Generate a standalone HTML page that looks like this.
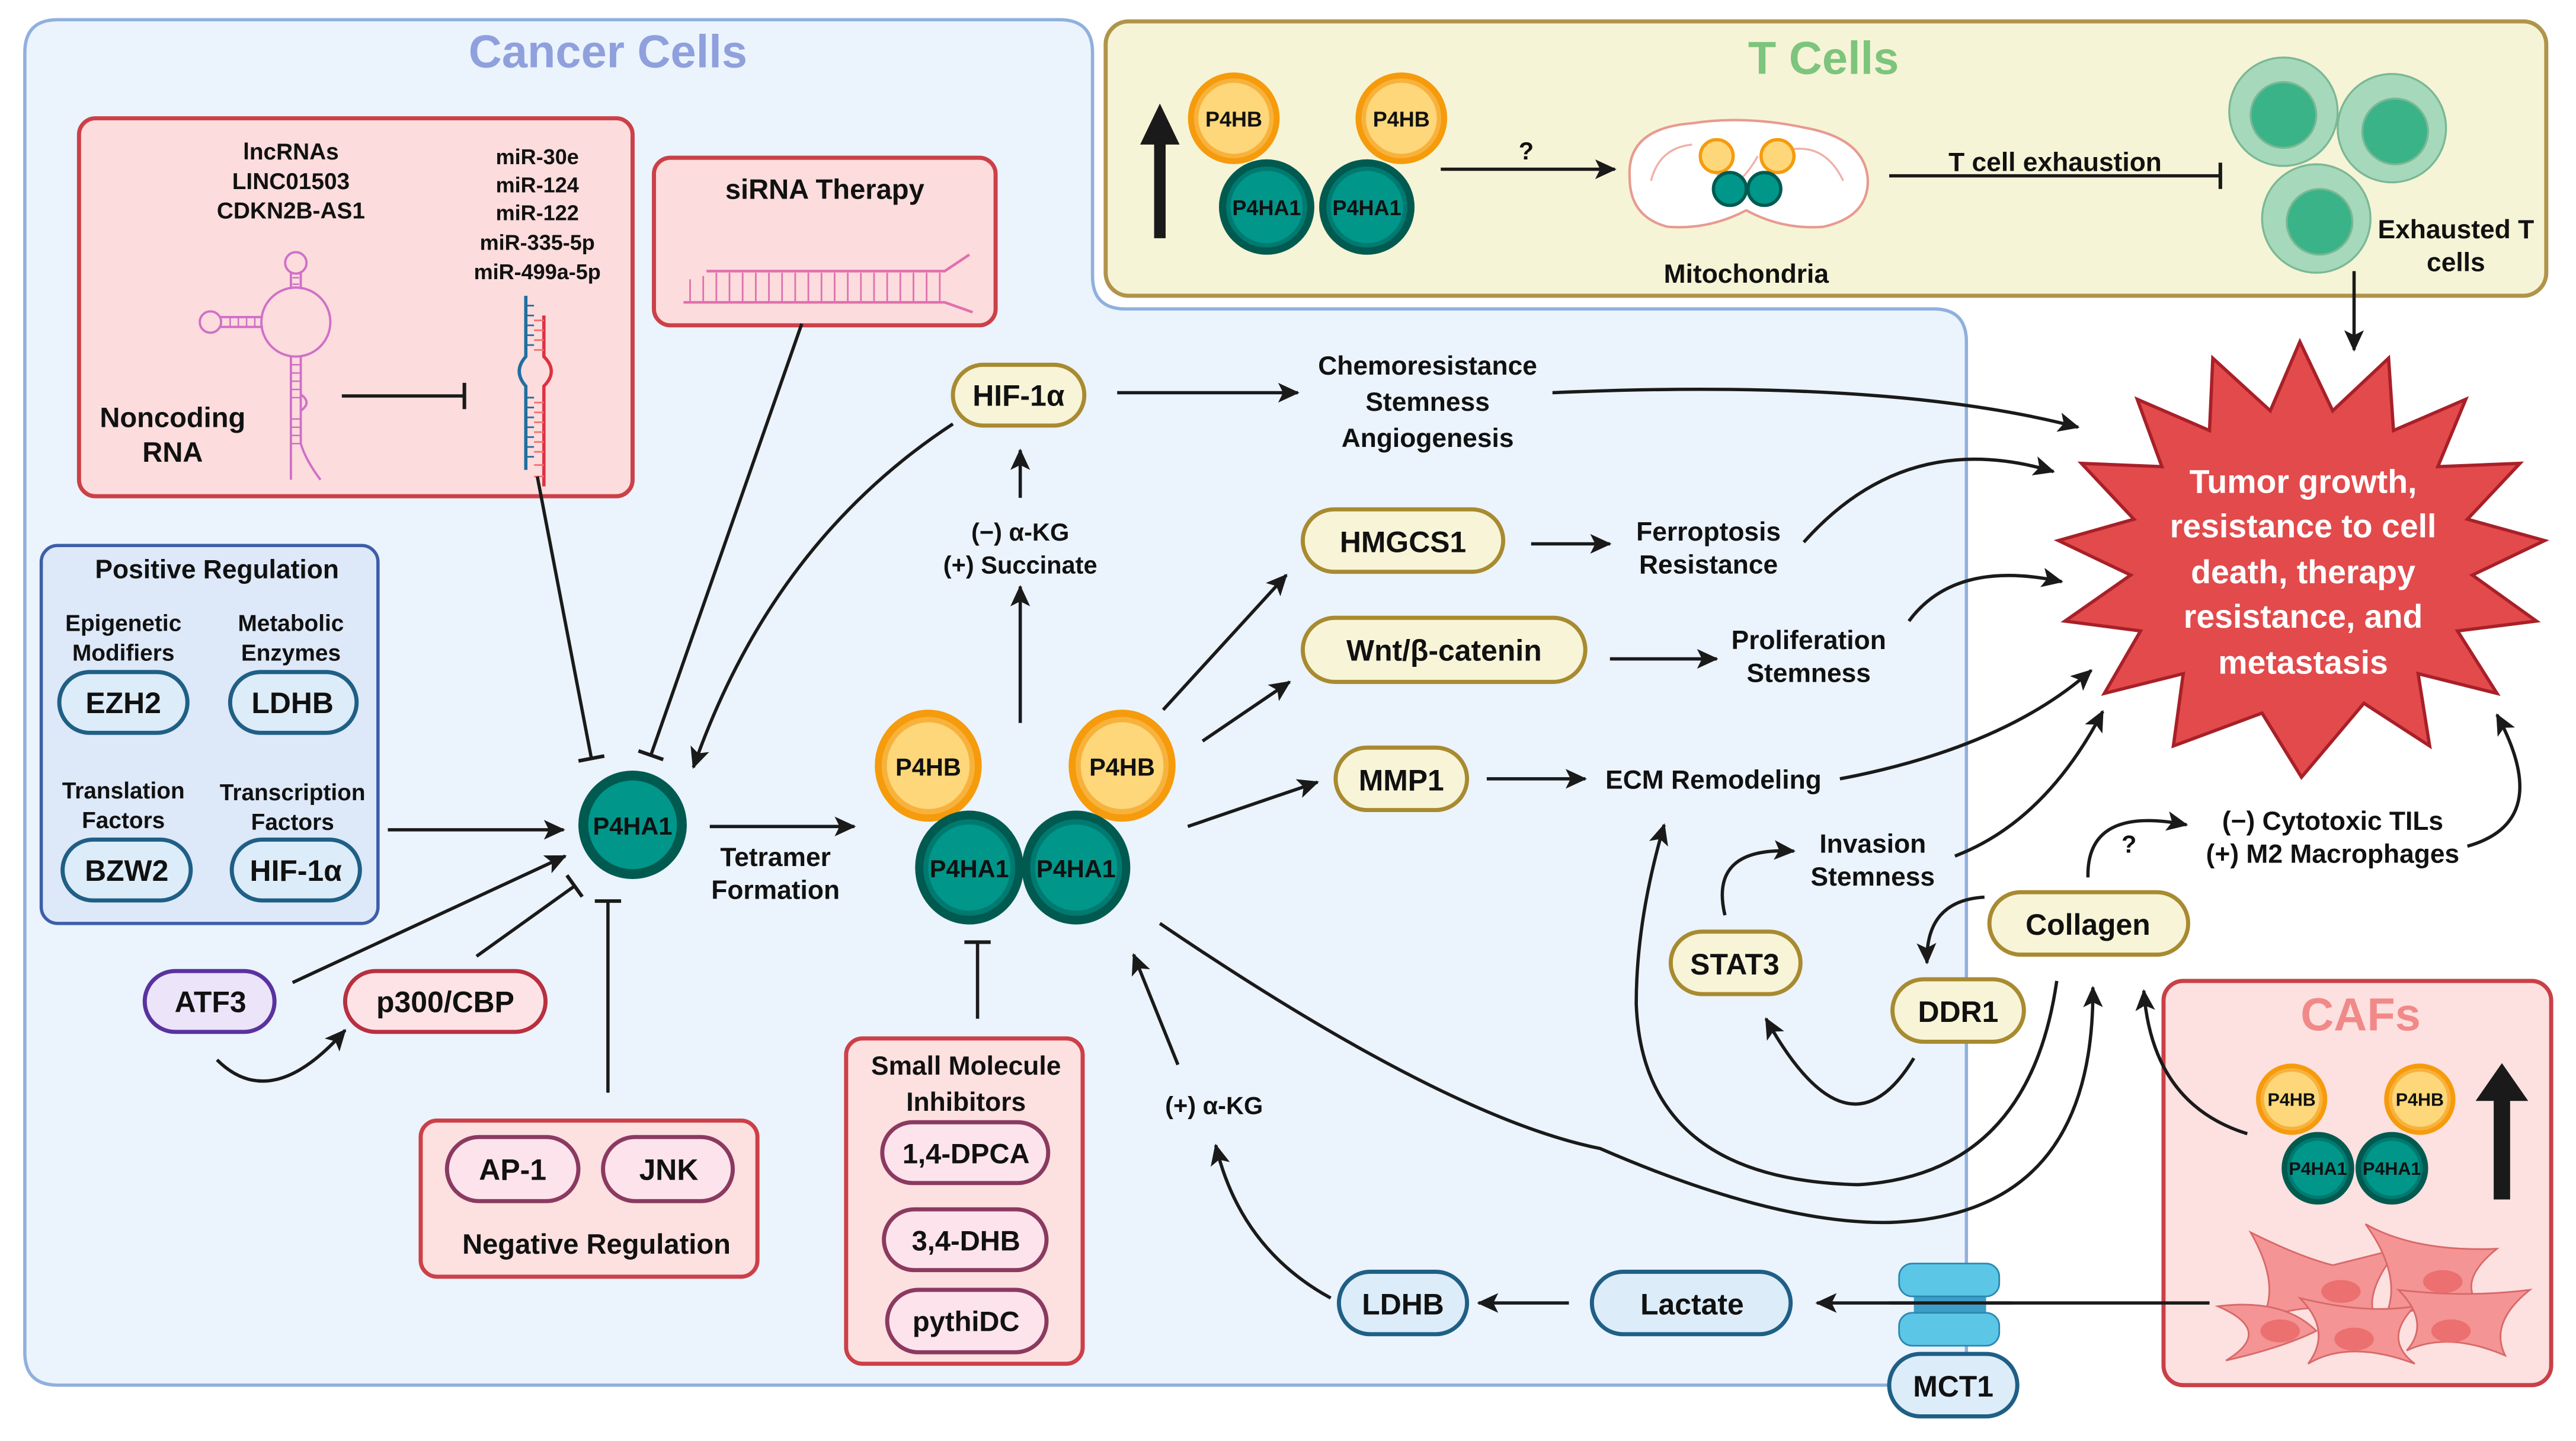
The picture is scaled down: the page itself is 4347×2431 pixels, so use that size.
<!DOCTYPE html>
<html><head><meta charset="utf-8"><style>
html,body{margin:0;padding:0;background:#fff}
svg{display:block}
text{font-family:"Liberation Sans",sans-serif;font-weight:bold;fill:#111;text-anchor:middle}
</style></head><body>
<svg width="4347" height="2431" viewBox="0 0 1568 877" xmlns="http://www.w3.org/2000/svg">
<defs>
<marker id="a" markerUnits="userSpaceOnUse" markerWidth="14" markerHeight="14" refX="12" refY="7" orient="auto"><path d="M0,1 L13,7 L0,13 L3,7 Z" fill="#1a1a1a"/></marker>
<marker id="t" markerUnits="userSpaceOnUse" markerWidth="4" markerHeight="18" refX="2" refY="9" orient="auto"><rect x="0.5" y="1" width="2.2" height="16" fill="#1a1a1a"/></marker>
<g id="hb"><circle r="31" fill="#f59b0c"/><circle r="27" fill="#f8b23c"/><circle r="24" fill="#fdd77a"/></g>
<g id="ha"><circle r="33" fill="#005a50"/><circle r="28" fill="#007a70"/><circle r="25" fill="#00968a"/></g>
</defs>

<!-- Cancer cells region -->
<path d="M35,12 L645,12 Q665,12 665,32 L665,168 Q665,188 685,188 L1177,188 Q1197,188 1197,208 L1197,823 Q1197,843 1177,843 L35,843 Q15,843 15,823 L15,32 Q15,12 35,12 Z" fill="#ebf3fc" stroke="#90b0de" stroke-width="2"/>
<text x="370" y="41" font-size="28" style="fill:#8fa0dd">Cancer Cells</text>

<!-- T cells -->
<rect x="673" y="13" width="877" height="167" rx="14" fill="#f6f4d6" stroke="#b0944a" stroke-width="2.5"/>
<text x="1110" y="45" font-size="28" style="fill:#7dc47d">T Cells</text>
<path d="M706,145 L706,85" stroke="#1a1a1a" stroke-width="7"/><path d="M694,88 L706,63 L718,88 Z" fill="#1a1a1a"/>
<use href="#ha" x="771" y="126" transform="translate(771,126) scale(0.88) translate(-771,-126)"/>
<use href="#ha" x="832" y="126" transform="translate(832,126) scale(0.88) translate(-832,-126)"/>
<use href="#hb" x="751" y="72" transform="translate(751,72) scale(0.9) translate(-751,-72)"/>
<use href="#hb" x="853" y="72" transform="translate(853,72) scale(0.9) translate(-853,-72)"/>
<text x="751" y="77" font-size="13">P4HB</text><text x="853" y="77" font-size="13">P4HB</text>
<text x="771" y="131" font-size="13">P4HA1</text><text x="832" y="131" font-size="13">P4HA1</text>
<text x="929" y="97" font-size="15">?</text>
<line x1="877" y1="103" x2="983" y2="103" stroke="#1a1a1a" stroke-width="2" marker-end="url(#a)"/>
<path d="M992,108 Q990,78 1030,75 Q1063,70 1100,78 Q1136,85 1137,110 Q1137,132 1110,138 Q1085,140 1063,128 Q1040,140 1015,138 Q992,132 992,108 Z" fill="#fff" stroke="#e89a90" stroke-width="1.5"/>
<path d="M1005,110 Q1010,90 1030,88 M1040,92 Q1050,130 1070,95 M1085,92 Q1110,85 1122,110" fill="none" stroke="#f0b0a8" stroke-width="1.2"/>
<circle cx="1045" cy="95" r="10" fill="#fdd77a" stroke="#f59b0c" stroke-width="2"/><circle cx="1082" cy="95" r="10" fill="#fdd77a" stroke="#f59b0c" stroke-width="2"/>
<circle cx="1053" cy="115" r="10" fill="#00968a" stroke="#005a50" stroke-width="2"/><circle cx="1074" cy="115" r="10" fill="#00968a" stroke="#005a50" stroke-width="2"/>
<text x="1063" y="172" font-size="16">Mitochondria</text>
<text x="1251" y="104" font-size="16">T cell exhaustion</text>
<line x1="1150" y1="107" x2="1352" y2="107" stroke="#1a1a1a" stroke-width="2" marker-end="url(#t)"/>
<g stroke="#7ab894" stroke-width="1.2">
<circle cx="1390" cy="68" r="33" fill="#a6d8bc"/><circle cx="1390" cy="70" r="20" fill="#3ab389"/>
<circle cx="1456" cy="78" r="33" fill="#a6d8bc"/><circle cx="1458" cy="80" r="20" fill="#3ab389"/>
<circle cx="1410" cy="133" r="33" fill="#a6d8bc"/><circle cx="1412" cy="135" r="20" fill="#3ab389"/>
</g>
<text x="1495" y="145" font-size="16">Exhausted T</text><text x="1495" y="165" font-size="16">cells</text>
<line x1="1433" y1="165" x2="1433" y2="213" stroke="#1a1a1a" stroke-width="2" marker-end="url(#a)"/>

<!-- CAFs -->
<rect x="1317" y="597" width="236" height="246" rx="12" fill="#fde0e0" stroke="#c84048" stroke-width="2.5"/>
<text x="1437" y="627" font-size="28" style="fill:#f08a88">CAFs</text>
<use href="#ha" transform="translate(1411,711) scale(0.67)"/><use href="#ha" transform="translate(1456,711) scale(0.67)"/>
<use href="#hb" transform="translate(1395,669) scale(0.7)"/><use href="#hb" transform="translate(1473,669) scale(0.7)"/>
<text x="1395" y="673" font-size="11">P4HB</text><text x="1473" y="673" font-size="11">P4HB</text>
<text x="1411" y="715" font-size="11">P4HA1</text><text x="1456" y="715" font-size="11">P4HA1</text>
<rect x="1518" y="668" width="10" height="62" fill="#1a1a1a"/><path d="M1507,670 L1523,647 L1539,670 Z" fill="#1a1a1a"/>
<g fill="#f49494" stroke="#d86868" stroke-width="1">
<path d="M1370,750 Q1400,765 1420,770 Q1440,765 1460,760 Q1440,785 1445,800 Q1400,790 1375,805 Q1390,785 1370,750 Z"/>
<path d="M1440,745 Q1470,762 1520,760 Q1495,780 1510,795 Q1480,790 1450,805 Q1465,780 1440,745 Z"/>
<path d="M1350,795 Q1390,790 1410,810 Q1390,820 1355,828 Q1385,810 1350,795 Z"/>
<path d="M1400,790 Q1440,800 1470,795 Q1450,815 1470,830 Q1430,815 1405,830 Q1420,810 1400,790 Z"/>
<path d="M1460,785 Q1500,790 1540,785 Q1515,805 1525,825 Q1490,810 1465,822 Q1480,805 1460,785 Z"/>
</g>
<g fill="#ec7070"><ellipse cx="1425" cy="786" rx="12" ry="7"/><ellipse cx="1487" cy="780" rx="12" ry="7"/><ellipse cx="1388" cy="810" rx="12" ry="7"/><ellipse cx="1433" cy="815" rx="12" ry="7"/><ellipse cx="1492" cy="810" rx="12" ry="7"/></g>
<path d="M1368,690 Q1310,672 1305,603" fill="none" stroke="#1a1a1a" stroke-width="2" marker-end="url(#a)"/>
<line x1="1345" y1="793" x2="1106" y2="793" stroke="#1a1a1a" stroke-width="2" marker-end="url(#a)"/>

<!-- MCT1 channel -->
<rect x="1165" y="784" width="44" height="20" fill="#3d9ec8"/>
<rect x="1156" y="769" width="61" height="20" rx="8" fill="#5cc6e6" stroke="#2a88b0" stroke-width="1"/>
<rect x="1156" y="799" width="61" height="20" rx="8" fill="#5cc6e6" stroke="#2a88b0" stroke-width="1"/>
<line x1="1150" y1="793" x2="1225" y2="793" stroke="#1a1a1a" stroke-width="2"/>
<rect x="1150" y="824" width="78" height="38" rx="19" fill="#dcecf8" stroke="#1f5f85" stroke-width="2.5"/>
<text x="1189" y="850" font-size="18">MCT1</text>

<!-- Star -->
<polygon points="1400,208 1420,250 1454,218 1457,262 1501,243 1484,284 1534,282 1502,316 1549,329 1505,350 1544,378 1496,384 1520,422 1472,410 1479,454 1439,428 1401,473 1377,434 1323,454 1329,410 1281,422 1303,384 1257,378 1297,350 1253,329 1299,316 1267,282 1316,284 1301,243 1345,262 1347,218 1382,250" fill="#e24a4c" stroke="#a82028" stroke-width="2"/>
<g style="fill:#fff" font-size="20"><text x="1402" y="300" style="fill:#fff">Tumor growth,</text><text x="1402" y="327" style="fill:#fff">resistance to cell</text><text x="1402" y="355" style="fill:#fff">death, therapy</text><text x="1402" y="382" style="fill:#fff">resistance, and</text><text x="1402" y="410" style="fill:#fff">metastasis</text></g>

<!-- Noncoding RNA box -->
<rect x="48" y="72" width="337" height="230" rx="10" fill="#fcdcdc" stroke="#cc4048" stroke-width="2.5"/>
<g font-size="14"><text x="177" y="97">lncRNAs</text><text x="177" y="115">LINC01503</text><text x="177" y="133">CDKN2B-AS1</text></g>
<g font-size="13"><text x="327" y="100">miR-30e</text><text x="327" y="117">miR-124</text><text x="327" y="134">miR-122</text><text x="327" y="152">miR-335-5p</text><text x="327" y="170">miR-499a-5p</text></g>
<g fill="none" stroke="#d070c8" stroke-width="1.4">
<circle cx="180" cy="160" r="6.5"/><path d="M177,166 L177,176 M183,166 L183,176"/>
<circle cx="180" cy="196" r="21"/>
<circle cx="128" cy="196" r="6.5"/><path d="M134,193 L160,193 M134,199 L160,199"/>
<path d="M177,217 L177,292 M183,217 L183,270 Q186,280 195,292"/><path d="M183,240 Q190,245 183,250"/>
</g>
<g stroke="#d070c8" stroke-width="0.9"><path d="M178,169 H182 M178,173 H182 M140,193 V199 M145,193 V199 M150,193 V199 M155,193 V199 M177,222 H183 M177,227 H183 M177,232 H183 M177,237 H183 M177,242 H183 M177,255 H183 M177,260 H183 M177,265 H183 M177,270 H183"/></g>
<text x="105" y="260" font-size="17">Noncoding</text><text x="105" y="281" font-size="17">RNA</text>
<line x1="208" y1="241" x2="283" y2="241" stroke="#1a1a1a" stroke-width="2" marker-end="url(#t)"/>
<g fill="none" stroke-width="2"><path d="M320,180 L320,217 Q312,226 320,235 L320,286" stroke="#1f6fa0"/><path d="M331,192 L331,217 Q340,226 331,235 L331,296" stroke="#e03040"/></g>
<g stroke-width="1"><path d="M320,186 H325 M320,192 H325 M320,198 H325 M320,204 H325 M320,210 H325 M320,242 H325 M320,248 H325 M320,254 H325 M320,260 H325 M320,266 H325 M320,272 H325 M320,278 H325" stroke="#1f6fa0"/><path d="M325,195 H331 M325,201 H331 M325,207 H331 M325,213 H331 M325,245 H331 M325,251 H331 M325,257 H331 M325,263 H331 M325,269 H331 M325,275 H331 M325,283 H331 M325,290 H331" stroke="#f07070"/></g>

<!-- siRNA -->
<rect x="398" y="96" width="208" height="102" rx="10" fill="#fcdcdc" stroke="#cc4048" stroke-width="2.5"/>
<text x="502" y="121" font-size="17">siRNA Therapy</text>
<g stroke="#e070b0" stroke-width="1.6" fill="none"><path d="M416,184 L575,184 L592,190 M430,165 L575,165 L590,155"/></g>
<g stroke="#e070b0" stroke-width="1"><path d="M420,170 V184 M428,168 V184 M436,166 V184 M444,166 V184 M452,166 V184 M460,166 V184 M468,166 V184 M476,166 V184 M484,166 V184 M492,166 V184 M500,166 V184 M508,166 V184 M516,166 V184 M524,166 V184 M532,166 V184 M540,166 V184 M548,166 V184 M556,166 V184 M564,166 V184 M572,166 V184"/></g>

<!-- Positive regulation -->
<rect x="25" y="332" width="205" height="230" rx="10" fill="#dde8f8" stroke="#3d5ea8" stroke-width="2"/>
<text x="132" y="352" font-size="16">Positive Regulation</text>
<g font-size="14"><text x="75" y="384">Epigenetic</text><text x="75" y="402">Modifiers</text><text x="177" y="384">Metabolic</text><text x="177" y="402">Enzymes</text>
<text x="75" y="486">Translation</text><text x="75" y="504">Factors</text><text x="178" y="487">Transcription</text><text x="178" y="505">Factors</text></g>
<g fill="#dcecf8" stroke="#1f5f85" stroke-width="2.5">
<rect x="36" y="409" width="78" height="37" rx="18.5"/><rect x="140" y="409" width="77" height="37" rx="18.5"/>
<rect x="38" y="511" width="78" height="37" rx="18.5"/><rect x="141" y="511" width="78" height="37" rx="18.5"/></g>
<g font-size="18"><text x="75" y="434">EZH2</text><text x="178" y="434">LDHB</text><text x="77" y="536">BZW2</text><text x="180" y="536">HIF-1α</text></g>
<line x1="236" y1="505" x2="343" y2="505" stroke="#1a1a1a" stroke-width="2" marker-end="url(#a)"/>

<!-- central P4HA1 -->
<circle cx="385" cy="502" r="33" fill="#005a50"/><circle cx="385" cy="502" r="27" fill="#00968a"/>
<text x="385" y="508" font-size="15">P4HA1</text>
<line x1="327" y1="290" x2="360" y2="462" stroke="#1a1a1a" stroke-width="2" marker-end="url(#t)"/>
<line x1="488" y1="197" x2="396" y2="460" stroke="#1a1a1a" stroke-width="2" marker-end="url(#t)"/>
<path d="M580,258 Q470,330 422,467" fill="none" stroke="#1a1a1a" stroke-width="2" marker-end="url(#a)"/>

<!-- ATF3 / p300 -->
<rect x="88" y="591" width="79" height="37" rx="18.5" fill="#ece4f8" stroke="#5a32a0" stroke-width="2.5"/><text x="128" y="616" font-size="18">ATF3</text>
<rect x="210" y="591" width="122" height="37" rx="18.5" fill="#fde3e6" stroke="#b83040" stroke-width="2.5"/><text x="271" y="616" font-size="18">p300/CBP</text>
<line x1="178" y1="598" x2="344" y2="521" stroke="#1a1a1a" stroke-width="2" marker-end="url(#a)"/>
<line x1="290" y1="582" x2="350" y2="539" stroke="#1a1a1a" stroke-width="2" marker-end="url(#t)"/>
<path d="M132,645 Q165,678 210,627" fill="none" stroke="#1a1a1a" stroke-width="2" marker-end="url(#a)"/>

<!-- Negative regulation -->
<rect x="256" y="682" width="205" height="95" rx="10" fill="#fde0e0" stroke="#cc4048" stroke-width="2.5"/>
<g fill="#fde3ec" stroke="#8a3a60" stroke-width="2.5"><rect x="272" y="692" width="80" height="39" rx="19.5"/><rect x="367" y="692" width="79" height="39" rx="19.5"/></g>
<text x="312" y="718" font-size="18">AP-1</text><text x="407" y="718" font-size="18">JNK</text>
<text x="363" y="763" font-size="17">Negative Regulation</text>
<line x1="370" y1="665" x2="370" y2="548" stroke="#1a1a1a" stroke-width="2" marker-end="url(#t)"/>

<!-- Tetramer -->
<text x="472" y="527" font-size="16">Tetramer</text><text x="472" y="547" font-size="16">Formation</text>
<line x1="432" y1="503" x2="520" y2="503" stroke="#1a1a1a" stroke-width="2" marker-end="url(#a)"/>
<use href="#hb" transform="translate(565,466) scale(1.05,1.1)"/><use href="#hb" transform="translate(683,466) scale(1.05,1.1)"/>
<use href="#ha" transform="translate(590,528) scale(1,1.05)"/><use href="#ha" transform="translate(655,528) scale(1,1.05)"/>
<text x="565" y="472" font-size="15">P4HB</text><text x="683" y="472" font-size="15">P4HB</text>
<text x="590" y="534" font-size="15">P4HA1</text><text x="655" y="534" font-size="15">P4HA1</text>

<line x1="621" y1="440" x2="621" y2="357" stroke="#1a1a1a" stroke-width="2" marker-end="url(#a)"/>
<text x="621" y="329" font-size="15">(−) α-KG</text><text x="621" y="349" font-size="15">(+) Succinate</text>
<line x1="621" y1="303" x2="621" y2="274" stroke="#1a1a1a" stroke-width="2" marker-end="url(#a)"/>

<g fill="#f8f4d8" stroke="#a88a30" stroke-width="2.5">
<rect x="580" y="222" width="80" height="37" rx="18.5"/>
<rect x="793" y="310" width="122" height="38" rx="19"/>
<rect x="793" y="376" width="172" height="39" rx="19.5"/>
<rect x="813" y="455" width="80" height="38" rx="19"/>
<rect x="1017" y="567" width="79" height="38" rx="19"/>
<rect x="1152" y="596" width="80" height="38" rx="19"/>
<rect x="1211" y="543" width="121" height="38" rx="19"/>
</g>
<g font-size="18"><text x="620" y="247">HIF-1α</text><text x="854" y="336">HMGCS1</text><text x="879" y="402">Wnt/β-catenin</text><text x="853" y="481">MMP1</text>
<text x="1056" y="593">STAT3</text><text x="1192" y="622">DDR1</text><text x="1271" y="569">Collagen</text></g>

<line x1="680" y1="239" x2="790" y2="239" stroke="#1a1a1a" stroke-width="2" marker-end="url(#a)"/>
<g font-size="16"><text x="869" y="228">Chemoresistance</text><text x="869" y="250">Stemness</text><text x="869" y="272">Angiogenesis</text></g>
<path d="M945,239 Q1150,230 1265,260" fill="none" stroke="#1a1a1a" stroke-width="2" marker-end="url(#a)"/>

<line x1="708" y1="432" x2="783" y2="350" stroke="#1a1a1a" stroke-width="2" marker-end="url(#a)"/>
<line x1="932" y1="331" x2="980" y2="331" stroke="#1a1a1a" stroke-width="2" marker-end="url(#a)"/>
<text x="1040" y="329" font-size="16">Ferroptosis</text><text x="1040" y="349" font-size="16">Resistance</text>
<path d="M1098,330 Q1160,260 1250,287" fill="none" stroke="#1a1a1a" stroke-width="2" marker-end="url(#a)"/>

<line x1="732" y1="451" x2="785" y2="415" stroke="#1a1a1a" stroke-width="2" marker-end="url(#a)"/>
<line x1="980" y1="401" x2="1045" y2="401" stroke="#1a1a1a" stroke-width="2" marker-end="url(#a)"/>
<text x="1101" y="395" font-size="16">Proliferation</text><text x="1101" y="415" font-size="16">Stemness</text>
<path d="M1162,378 Q1190,340 1255,354" fill="none" stroke="#1a1a1a" stroke-width="2" marker-end="url(#a)"/>

<line x1="723" y1="503" x2="802" y2="476" stroke="#1a1a1a" stroke-width="2" marker-end="url(#a)"/>
<line x1="905" y1="474" x2="965" y2="474" stroke="#1a1a1a" stroke-width="2" marker-end="url(#a)"/>
<text x="1043" y="480" font-size="16">ECM Remodeling</text>
<path d="M1120,474 Q1220,455 1273,408" fill="none" stroke="#1a1a1a" stroke-width="2" marker-end="url(#a)"/>

<text x="1140" y="519" font-size="16">Invasion</text><text x="1140" y="539" font-size="16">Stemness</text>
<path d="M1190,521 Q1245,500 1280,433" fill="none" stroke="#1a1a1a" stroke-width="2" marker-end="url(#a)"/>
<path d="M1050,557 Q1040,515 1092,518" fill="none" stroke="#1a1a1a" stroke-width="2" marker-end="url(#a)"/>
<path d="M1208,546 Q1172,548 1173,586" fill="none" stroke="#1a1a1a" stroke-width="2" marker-end="url(#a)"/>
<path d="M1165,644 Q1125,710 1075,620" fill="none" stroke="#1a1a1a" stroke-width="2" marker-end="url(#a)"/>
<text x="1296" y="519" font-size="15">?</text>
<path d="M1271,534 Q1270,490 1331,502" fill="none" stroke="#1a1a1a" stroke-width="2" marker-end="url(#a)"/>
<text x="1420" y="505" font-size="16">(−) Cytotoxic TILs</text><text x="1420" y="525" font-size="16">(+) M2 Macrophages</text>
<path d="M1502,515 Q1555,500 1520,435" fill="none" stroke="#1a1a1a" stroke-width="2" marker-end="url(#a)"/>

<path d="M1252,597 Q1235,715 1131,721 Q1000,718 996,611 Q996,560 1013,502" fill="none" stroke="#1a1a1a" stroke-width="2" marker-end="url(#a)"/>
<path d="M706,562 Q880,680 974,699 Q1080,745 1150,744 Q1275,740 1274,601" fill="none" stroke="#1a1a1a" stroke-width="2" marker-end="url(#a)"/>

<!-- Small molecule -->
<rect x="515" y="632" width="144" height="198" rx="10" fill="#fde0e0" stroke="#cc4048" stroke-width="2.5"/>
<text x="588" y="654" font-size="16">Small Molecule</text><text x="588" y="676" font-size="16">Inhibitors</text>
<g fill="#fde3ec" stroke="#8a3a60" stroke-width="2.5"><rect x="537" y="683" width="101" height="37" rx="18.5"/><rect x="538" y="736" width="99" height="37" rx="18.5"/><rect x="540" y="785" width="97" height="38" rx="19"/></g>
<g font-size="17"><text x="588" y="708">1,4-DPCA</text><text x="588" y="761">3,4-DHB</text><text x="588" y="810">pythiDC</text></g>
<line x1="595" y1="620" x2="595" y2="573" stroke="#1a1a1a" stroke-width="2" marker-end="url(#t)"/>

<!-- LDHB / lactate -->
<text x="739" y="678" font-size="15">(+) α-KG</text>
<line x1="717" y1="648" x2="690" y2="581" stroke="#1a1a1a" stroke-width="2" marker-end="url(#a)"/>
<path d="M810,790 Q755,760 740,697" fill="none" stroke="#1a1a1a" stroke-width="2" marker-end="url(#a)"/>
<g fill="#dcecf8" stroke="#1f5f85" stroke-width="2.5"><rect x="815" y="774" width="78" height="38" rx="19"/><rect x="969" y="774" width="121" height="38" rx="19"/></g>
<text x="854" y="800" font-size="18">LDHB</text><text x="1030" y="800" font-size="18">Lactate</text>
<line x1="955" y1="793" x2="900" y2="793" stroke="#1a1a1a" stroke-width="2" marker-end="url(#a)"/>
</svg>
</body></html>
